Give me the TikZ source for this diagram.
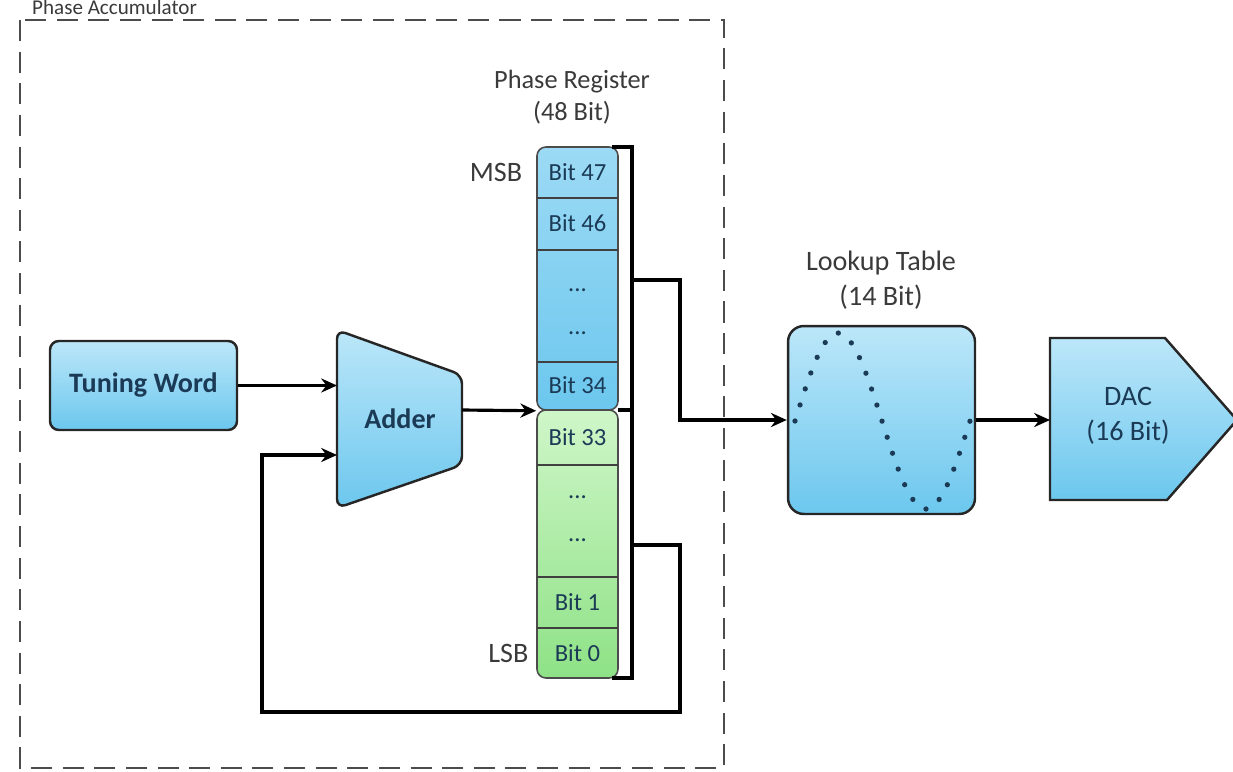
\documentclass[tikz,border=0pt]{standalone}
\usepackage{fontspec}
\setmainfont{Carlito}
\usetikzlibrary{arrows.meta,positioning}
\definecolor{bluetop}{HTML}{BCE7F9}
\definecolor{bluebot}{HTML}{6CC7EE}
\definecolor{greentop}{HTML}{CFF6C8}
\definecolor{greenbot}{HTML}{8EE286}
\definecolor{navy}{HTML}{1B3A56}
\definecolor{labelgray}{HTML}{3A3A3A}
\tikzset{
  block/.style={draw=black!85, line width=1.4pt, rounded corners=5pt,
    top color=bluetop, bottom color=bluebot},
  regblue/.style={draw=black!70, line width=0.9pt, rounded corners=5pt,
    top color=bluetop!60!bluebot, bottom color=bluebot},
  reggreen/.style={draw=black!70, line width=0.9pt, rounded corners=5pt,
    top color=greentop, bottom color=greenbot},
  blocktext/.style={text=navy, font=\bfseries\fontsize{16}{20}\selectfont},
  bittext/.style={text=navy, font=\fontsize{14}{17}\selectfont},
  label/.style={text=labelgray, font=\fontsize{16}{20}\selectfont, align=center},
  sep/.style={draw=black!75, line width=0.9pt},
  wire/.style={draw=black, line width=1.8pt},
  arrow/.style={wire, -{Stealth[length=9pt,width=8pt]}},
  frame/.style={draw=black!70, line width=1.1pt, dash pattern=on 12pt off 6pt},
  sinedots/.style={draw=navy, line width=3pt, line cap=round,
    dash pattern=on 0pt off 9.6pt}
}
\begin{document}
\begin{tikzpicture}[x=0.02cm, y=-0.02cm]
\useasboundingbox (0,0) rectangle (1233,771);
\clip (0,0) rectangle (1233,771);

% phase accumulator frame
\node[label, font=\fontsize{12}{14}\selectfont, anchor=base west] (acctitle) at (26,14) {Phase Accumulator};
\draw[frame] (20,20) rectangle (724,768);

% tuning word and adder
\node[block, blocktext, minimum width=3.74cm, minimum height=1.78cm] (tw) at (143.5,385.5) {Tuning Word};
\draw[block] (337,330) -- (462,375) -- (462,465) -- (337,508) -- cycle;
\node[blocktext] (adder) at (400,419) {Adder};
\coordinate (addina) at (337,385.5);
\coordinate (addinb) at (337,455);
\coordinate (addout) at (462,410);

% phase register
\node[label, font=\fontsize{15}{18}\selectfont] (regtitle) at (572,97) {Phase Register\\(48 Bit)};
\node[regblue, minimum width=1.62cm, minimum height=5.26cm] (hi) at (577.5,278.5) {};
\node[reggreen, minimum width=1.62cm, minimum height=5.36cm] (lo) at (577.5,544) {};
\foreach \y in {198,250,362,465,577,628}
  \draw[sep] (537,\y) -- (618,\y);
\node[bittext] (b47) at (577.5,172) {Bit 47};
\node[bittext] (b46) at (577.5,223) {Bit 46};
\node[bittext] (hidota) at (577.5,290) {...};
\node[bittext] (hidotb) at (577.5,333) {...};
\node[bittext] (b34) at (577.5,385) {Bit 34};
\node[bittext] (b33) at (577.5,437) {Bit 33};
\node[bittext] (lodota) at (577.5,497) {...};
\node[bittext] (lodotb) at (577.5,540) {...};
\node[bittext] (b1) at (577.5,602) {Bit 1};
\node[bittext] (b0) at (577.5,653) {Bit 0};
\node[label, left=8pt of b47] (msb) {MSB};
\node[label, left=8pt of b0] (lsb) {LSB};

% bracket with taps
\draw[wire] (612,147) -- (632,147) -- (632,678) -- (612,678);
\draw[wire] (618,410) -- (632,410);
\coordinate (tapup) at (632,280);
\coordinate (taplo) at (632,545);

% lookup table
\node[label] (luttitle) at (881,280) {Lookup Table\\(14 Bit)};
\node[block, rounded corners=9pt, minimum width=3.74cm, minimum height=3.76cm] (lut) at (881.5,420) {};
\draw[sinedots] (795,421) sin (838,333) cos (882,421) sin (926,509) cos (970,421);

% dac
\draw[block, rounded corners=0pt] (1050,338) -- (1165,338) -- (1237,420) -- (1167,500) -- (1050,500) -- cycle;
\node[blocktext, font=\fontsize{16}{20}\selectfont, align=center] (dac) at (1128,416) {DAC\\(16 Bit)};
\coordinate (dacin) at (1050,420);

% connectors
\draw[arrow] (tw.east) -- (addina);
\draw[arrow] (addout) -- (hi.south west);
\draw[arrow] (tapup) -- (680,280) |- (lut.west);
\draw[arrow] (taplo) -| (680,712) -| (262,455) -- (addinb);
\draw[arrow] (lut.east) -- (dacin);
\end{tikzpicture}
\end{document}
